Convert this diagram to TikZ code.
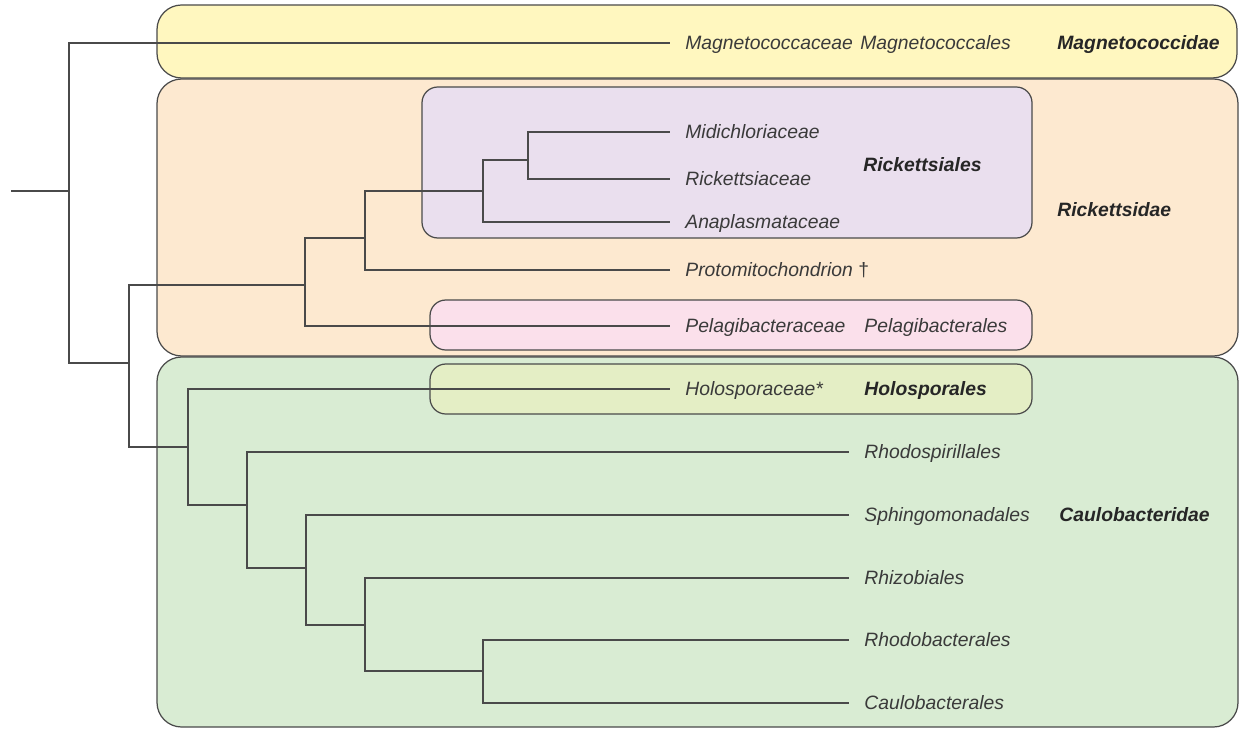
\documentclass[tikz,border=0pt]{standalone}
\usepackage{fontspec}
\setmainfont{Liberation Sans}
\definecolor{linegray}{HTML}{4A4A4A}
\definecolor{textgray}{HTML}{3A3A3A}
\definecolor{magnetofill}{HTML}{FFF7BF}
\definecolor{rickfill}{HTML}{FDE9D0}
\definecolor{rickordfill}{HTML}{EADFEE}
\definecolor{pelagifill}{HTML}{FBE0EB}
\definecolor{caulofill}{HTML}{D9ECD3}
\definecolor{holofill}{HTML}{E4EEC5}
\begin{document}
\begin{tikzpicture}[x = 0.02cm, y = -0.02cm,
		branch/.style = {draw = linegray, line width = 0.75pt},
		cladebox/.style = {draw = linegray, line width = 0.7pt, rounded corners = 14pt},
		orderbox/.style = {draw = linegray, line width = 0.7pt, rounded corners = 9pt},
		taxon/.style = {anchor = west, inner xsep = 0.3cm, inner ysep = 0pt, text height = 9.5pt, text depth = 2pt, text = textgray, font = \fontsize{11}{13}\selectfont\itshape},
		cladename/.style = {taxon, text = black!85, font = \fontsize{11}{13}\selectfont\bfseries\itshape}]
	\useasboundingbox (0, 0) rectangle (1239, 729);
	% subclass and order boxes
	\draw[cladebox, fill = magnetofill] (157, 5) rectangle (1237, 78);
	\draw[cladebox, fill = rickfill] (157, 79) rectangle (1238, 356);
	\draw[cladebox, fill = caulofill] (157, 357) rectangle (1238, 727);
	\draw[orderbox, fill = rickordfill] (422, 87) rectangle (1032, 238);
	\draw[orderbox, fill = pelagifill] (430, 300) rectangle (1032, 350);
	\draw[orderbox, fill = holofill] (430, 364) rectangle (1032, 414);
	% leaves
	\node[taxon] (magneto) at (670, 43) {Magnetococcaceae};
	\node[taxon] (midi) at (670, 132) {Midichloriaceae};
	\node[taxon] (rick) at (670, 179) {Rickettsiaceae};
	\node[taxon] (anapl) at (670, 222) {Anaplasmataceae};
	\node[taxon] (proto) at (670, 270) {Protomitochondrion {\upshape †}};
	\node[taxon] (pelagi) at (670, 326) {Pelagibacteraceae};
	\node[taxon] (holo) at (670, 389) {Holosporaceae*};
	\node[taxon] (rhodosp) at (849, 452) {Rhodospirillales};
	\node[taxon] (sphingo) at (849, 515) {Sphingomonadales};
	\node[taxon] (rhizo) at (849, 578) {Rhizobiales};
	\node[taxon] (rhodob) at (849, 640) {Rhodobacterales};
	\node[taxon] (caulob) at (849, 703) {Caulobacterales};
	% order and subclass names
	\node[taxon] (magnetoord) at (845, 43) {Magnetococcales};
	\node[taxon] (pelagiord) at (849, 326) {Pelagibacterales};
	\node[cladename] (holoord) at (849, 389) {Holosporales};
	\node[cladename] (rickord) at (848, 165) {Rickettsiales};
	\node[cladename] (magnetosub) at (1042, 43) {Magnetococcidae};
	\node[cladename] (ricksub) at (1042, 210) {Rickettsidae};
	\node[cladename] (caulosub) at (1044, 515) {Caulobacteridae};
	% tree
	\coordinate (root) at (11, 191);
	\coordinate (n0) at (69, 191);
	\coordinate (na) at (129, 363);
	\coordinate (nrs) at (305, 285);
	\coordinate (nrp) at (365, 238);
	\coordinate (nro) at (483, 191);
	\coordinate (nrm) at (528, 160);
	\coordinate (ncs) at (188, 447);
	\coordinate (nc1) at (247, 505);
	\coordinate (nc2) at (306, 568);
	\coordinate (nc3) at (365, 625);
	\coordinate (nc4) at (483, 671);
	\draw[branch] (root) -- (n0);
	\draw[branch] (n0) |- (magneto.west);
	\draw[branch] (n0) |- (na);
	\draw[branch] (na) |- (nrs);
	\draw[branch] (nrs) |- (pelagi.west);
	\draw[branch] (nrs) |- (nrp);
	\draw[branch] (nrp) |- (proto.west);
	\draw[branch] (nrp) |- (nro);
	\draw[branch] (nro) |- (anapl.west);
	\draw[branch] (nro) |- (nrm);
	\draw[branch] (nrm) |- (midi.west);
	\draw[branch] (nrm) |- (rick.west);
	\draw[branch] (na) |- (ncs);
	\draw[branch] (ncs) |- (holo.west);
	\draw[branch] (ncs) |- (nc1);
	\draw[branch] (nc1) |- (rhodosp.west);
	\draw[branch] (nc1) |- (nc2);
	\draw[branch] (nc2) |- (sphingo.west);
	\draw[branch] (nc2) |- (nc3);
	\draw[branch] (nc3) |- (rhizo.west);
	\draw[branch] (nc3) |- (nc4);
	\draw[branch] (nc4) |- (rhodob.west);
	\draw[branch] (nc4) |- (caulob.west);
\end{tikzpicture}
\end{document}
